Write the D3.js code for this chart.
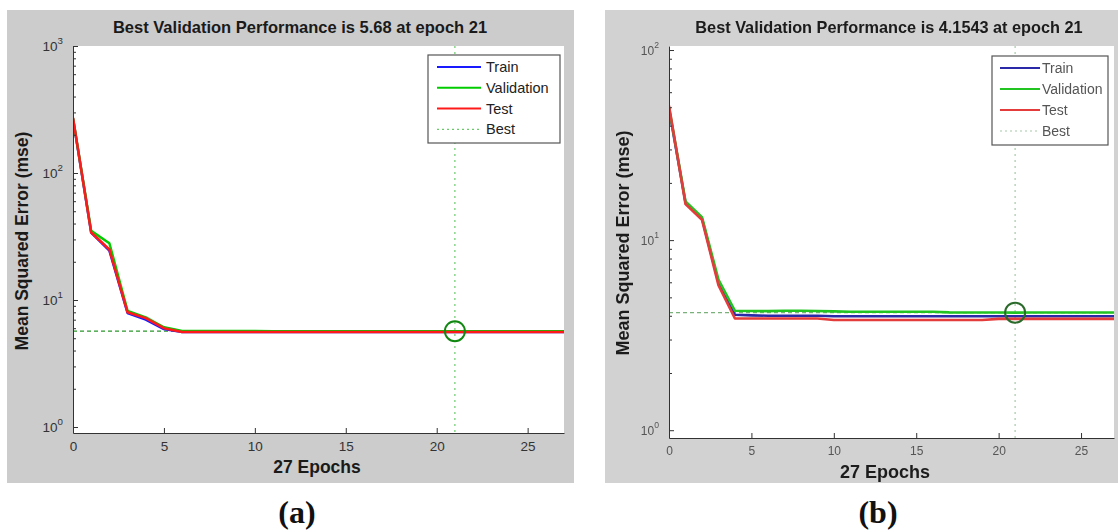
<!DOCTYPE html>
<html>
<head>
<meta charset="utf-8">
<script src="https://cdn.jsdelivr.net/npm/d3@7"></script>
<style>
  html, body { margin: 0; padding: 0; background: #ffffff; }
  svg { display: block; }
</style>
</head>
<body>
<svg id="fig" width="1118" height="532"></svg>
<script>
// Training records: mean squared error per epoch for two networks
const epochs = [0,1,2,3,4,5,6,7,8,9,10,11,12,13,14,15,16,17,18,19,20,21,22,23,24,25,26,27];
const xTicks = [0,5,10,15,20,25];

const trainA = [268,34,24.5,7.9,7.0,5.9,5.6,5.6,5.6,5.6,5.6,5.6,5.6,5.6,5.6,5.6,5.6,5.6,5.6,5.6,5.6,5.6,5.6,5.6,5.6,5.6,5.6,5.6];
const validA = [270,35,28,8.2,7.3,6.1,5.70,5.69,5.69,5.69,5.69,5.68,5.68,5.68,5.68,5.68,5.68,5.68,5.68,5.68,5.68,5.68,5.68,5.68,5.68,5.68,5.68,5.68];
const testA  = [272,34,25,8.0,7.2,6.0,5.6,5.6,5.6,5.6,5.6,5.6,5.6,5.6,5.6,5.6,5.6,5.6,5.6,5.6,5.6,5.6,5.6,5.6,5.6,5.6,5.6,5.6];
const bestA = { epoch: 21, value: 5.68, label: "5.68" };
const yDecadesA = [0,1,2,3];

const trainB = [49,15.8,13.0,6.0,4.05,4.02,4.0,4.0,4.0,4.0,3.98,3.98,3.98,3.98,3.98,3.98,3.98,3.98,3.98,3.98,3.98,3.98,3.98,3.98,3.98,3.98,3.98,3.98];
const validB = [50,16,13.2,6.2,4.25,4.24,4.23,4.25,4.25,4.24,4.22,4.2,4.2,4.2,4.2,4.2,4.2,4.17,4.16,4.16,4.16,4.1543,4.16,4.16,4.16,4.16,4.16,4.16];
const testB  = [51,15.5,12.8,5.8,3.87,3.87,3.87,3.87,3.87,3.87,3.8,3.8,3.8,3.8,3.8,3.8,3.8,3.8,3.8,3.8,3.85,3.85,3.85,3.85,3.85,3.85,3.85,3.85];
const bestB = { epoch: 21, value: 4.1543, label: "4.1543" };
const yDecadesB = [0,1,2];

const legendNames = ["Train","Validation","Test","Best"];

const svg = d3.select("#fig");
const defs = svg.append("defs");
const FONT = "'Liberation Sans', Arial, sans-serif";

function zip(vals) { return epochs.map((e, i) => [e, vals[i]]); }

function panel(cfg) {
  const g = svg.append("g");
  if (cfg.blur) {
    const f = defs.append("filter").attr("id", cfg.id + "blur")
      .attr("x", "-5%").attr("y", "-5%").attr("width", "110%").attr("height", "110%");
    f.append("feGaussianBlur").attr("stdDeviation", cfg.blur);
    g.attr("filter", `url(#${cfg.id}blur)`);
  }
  // grey figure background
  g.append("rect").attr("x", cfg.bg[0]).attr("y", cfg.bg[1])
    .attr("width", cfg.bg[2]).attr("height", cfg.bg[3]).attr("fill", cfg.bgColor);

  const x = d3.scaleLinear().domain([0, 27]).range([cfg.left, cfg.right]);
  const y = d3.scaleLog().domain(cfg.yDomain).range([cfg.bottom, cfg.top]);

  g.append("rect").attr("x", cfg.left).attr("y", cfg.top)
    .attr("width", cfg.right - cfg.left).attr("height", cfg.bottom - cfg.top).attr("fill", "#ffffff");

  const clipId = cfg.id + "clip";
  defs.append("clipPath").attr("id", clipId).append("rect")
    .attr("x", cfg.left).attr("y", cfg.top)
    .attr("width", cfg.right - cfg.left).attr("height", cfg.bottom - cfg.top);
  const plot = g.append("g").attr("clip-path", `url(#${clipId})`);

  // best markers
  plot.append("line")
    .attr("x1", x(0)).attr("x2", x(27)).attr("y1", y(cfg.best.value)).attr("y2", y(cfg.best.value))
    .attr("stroke", cfg.bestH).attr("stroke-width", 1.2).attr("stroke-dasharray", "4,3");
  plot.append("line")
    .attr("x1", x(cfg.best.epoch)).attr("x2", x(cfg.best.epoch)).attr("y1", cfg.top).attr("y2", cfg.bottom)
    .attr("stroke", cfg.bestV).attr("stroke-width", 1.2).attr("stroke-dasharray", "2,4");

  const line = d3.line().x(d => x(d[0])).y(d => y(d[1]));
  const series = [
    { vals: cfg.train, color: cfg.colors[0] },
    { vals: cfg.valid, color: cfg.colors[1] },
    { vals: cfg.test,  color: cfg.colors[2] }
  ];
  series.forEach(s => {
    plot.append("path").datum(zip(s.vals)).attr("d", line)
      .attr("fill", "none").attr("stroke", s.color).attr("stroke-width", cfg.lw)
      .attr("stroke-linejoin", "round");
  });

  plot.append("circle").attr("cx", x(cfg.best.epoch)).attr("cy", y(cfg.best.value))
    .attr("r", 10).attr("fill", "none").attr("stroke", cfg.circle).attr("stroke-width", 2);

  // axes
  const xAxis = g.append("g").attr("transform", `translate(0,${cfg.bottom})`)
    .call(d3.axisBottom(x).tickValues(xTicks).tickSizeInner(-5).tickSizeOuter(0).tickPadding(8));
  xAxis.selectAll("text").attr("font-family", FONT).attr("font-size", cfg.tickFont).attr("fill", cfg.tickColor);
  xAxis.selectAll("line, path").attr("stroke", "#333");

  const majors = cfg.decades.map(d => Math.pow(10, d));
  const minors = [];
  cfg.decades.forEach(d => {
    for (let k = 2; k <= 9; k++) {
      const v = k * Math.pow(10, d);
      if (v >= cfg.yDomain[0] && v <= cfg.yDomain[1]) minors.push(v);
    }
  });
  const yAxis = g.append("g").attr("transform", `translate(${cfg.left},0)`)
    .call(d3.axisLeft(y).tickValues(majors).tickSizeInner(-5).tickSizeOuter(0).tickFormat(""));
  yAxis.selectAll("line, path").attr("stroke", "#333");
  const yMinor = g.append("g").attr("transform", `translate(${cfg.left},0)`)
    .call(d3.axisLeft(y).tickValues(minors).tickSizeInner(-3).tickSizeOuter(0).tickFormat(""));
  yMinor.select("path").remove();
  yMinor.selectAll("line").attr("stroke", "#333");

  // decade labels 10^n
  cfg.decades.forEach(d => {
    const t = g.append("text").attr("x", cfg.left - 10).attr("y", y(Math.pow(10, d)) + 5)
      .attr("text-anchor", "end").attr("font-family", FONT).attr("font-size", cfg.tickFont)
      .attr("fill", cfg.tickColor);
    t.append("tspan").text("10");
    t.append("tspan").attr("dy", -7).attr("font-size", cfg.tickFont * 0.72).text(String(d));
  });

  // titles and labels
  g.append("text").attr("x", cfg.titleX).attr("y", 33).attr("text-anchor", "middle")
    .attr("font-family", FONT).attr("font-weight", "bold").attr("font-size", cfg.titleFont)
    .attr("fill", "#1a1a1a")
    .text(`Best Validation Performance is ${cfg.best.label} at epoch ${cfg.best.epoch}`);
  g.append("text").attr("x", cfg.xLabelX).attr("y", cfg.xLabelY).attr("text-anchor", "middle")
    .attr("font-family", FONT).attr("font-weight", "bold").attr("font-size", cfg.labelFont)
    .attr("fill", "#1a1a1a").text("27 Epochs");
  g.append("text")
    .attr("transform", `translate(${cfg.yLabelX},${cfg.yLabelY}) rotate(-90)`)
    .attr("text-anchor", "middle").attr("font-family", FONT).attr("font-weight", "bold")
    .attr("font-size", cfg.labelFont).attr("fill", "#1a1a1a").text("Mean Squared Error  (mse)");

  // legend
  const L = cfg.legend;
  g.append("rect").attr("x", L.x).attr("y", L.y).attr("width", L.w).attr("height", L.h)
    .attr("fill", "#ffffff").attr("stroke", "#555").attr("stroke-width", 1.2);
  const legColors = [cfg.colors[0], cfg.colors[1], cfg.colors[2], cfg.bestV];
  legendNames.forEach((name, i) => {
    const yy = L.y + L.first + i * L.step;
    g.append("line").attr("x1", L.x + L.lx0).attr("x2", L.x + L.lx1).attr("y1", yy).attr("y2", yy)
      .attr("stroke", legColors[i]).attr("stroke-width", i === 3 ? 1.2 : cfg.lw - 0.5)
      .attr("stroke-dasharray", i === 3 ? "2,3" : null);
    g.append("text").attr("x", L.x + L.tx).attr("y", yy + 5)
      .attr("font-family", FONT).attr("font-size", L.font).attr("fill", L.textColor).text(name);
  });
}

panel({
  id: "a", blur: 0, bg: [7, 10, 567, 473], bgColor: "#cccccc",
  left: 73, right: 564, top: 46, bottom: 433, yDomain: [0.897, 1000], decades: yDecadesA,
  train: trainA, valid: validA, test: testA, best: bestA,
  colors: ["#1a1aff", "#00cc00", "#ff1a1a"], lw: 2.5,
  bestH: "#2a962a", bestV: "#6acb6a", circle: "#118811",
  tickFont: 13.5, tickColor: "#333", titleFont: 16.5, labelFont: 17.5,
  titleX: 300, xLabelX: 317, xLabelY: 473, yLabelX: 28, yLabelY: 241,
  legend: { x: 428, y: 55, w: 132, h: 88, first: 12, step: 20.8, lx0: 9, lx1: 53, tx: 58, font: 14.5, textColor: "#222" }
});

panel({
  id: "b", blur: 0.6, bg: [605, 10, 513, 473], bgColor: "#d2d2d2",
  left: 669, right: 1114, top: 46, bottom: 438, yDomain: [0.91, 105], decades: yDecadesB,
  train: trainB, valid: validB, test: testB, best: bestB,
  colors: ["#2a2aa8", "#22c422", "#e43a3a"], lw: 2.6,
  bestH: "#7ab07a", bestV: "#a8c8a8", circle: "#2a6a2a",
  tickFont: 12, tickColor: "#555", titleFont: 16.3, labelFont: 18,
  titleX: 889, xLabelX: 885, xLabelY: 478, yLabelX: 629, yLabelY: 243,
  legend: { x: 992, y: 56, w: 116, h: 89, first: 12, step: 21, lx0: 8, lx1: 48, tx: 50, font: 14, textColor: "#555" }
});

// sub-figure captions
svg.append("text").attr("x", 297).attr("y", 523).attr("text-anchor", "middle")
  .attr("font-family", "'Liberation Serif', 'Times New Roman', serif").attr("font-weight", "bold")
  .attr("font-size", 32).attr("fill", "#111").text("(a)");
svg.append("text").attr("x", 878).attr("y", 523).attr("text-anchor", "middle")
  .attr("font-family", "'Liberation Serif', 'Times New Roman', serif").attr("font-weight", "bold")
  .attr("font-size", 32).attr("fill", "#111").text("(b)");
</script>
</body>
</html>
